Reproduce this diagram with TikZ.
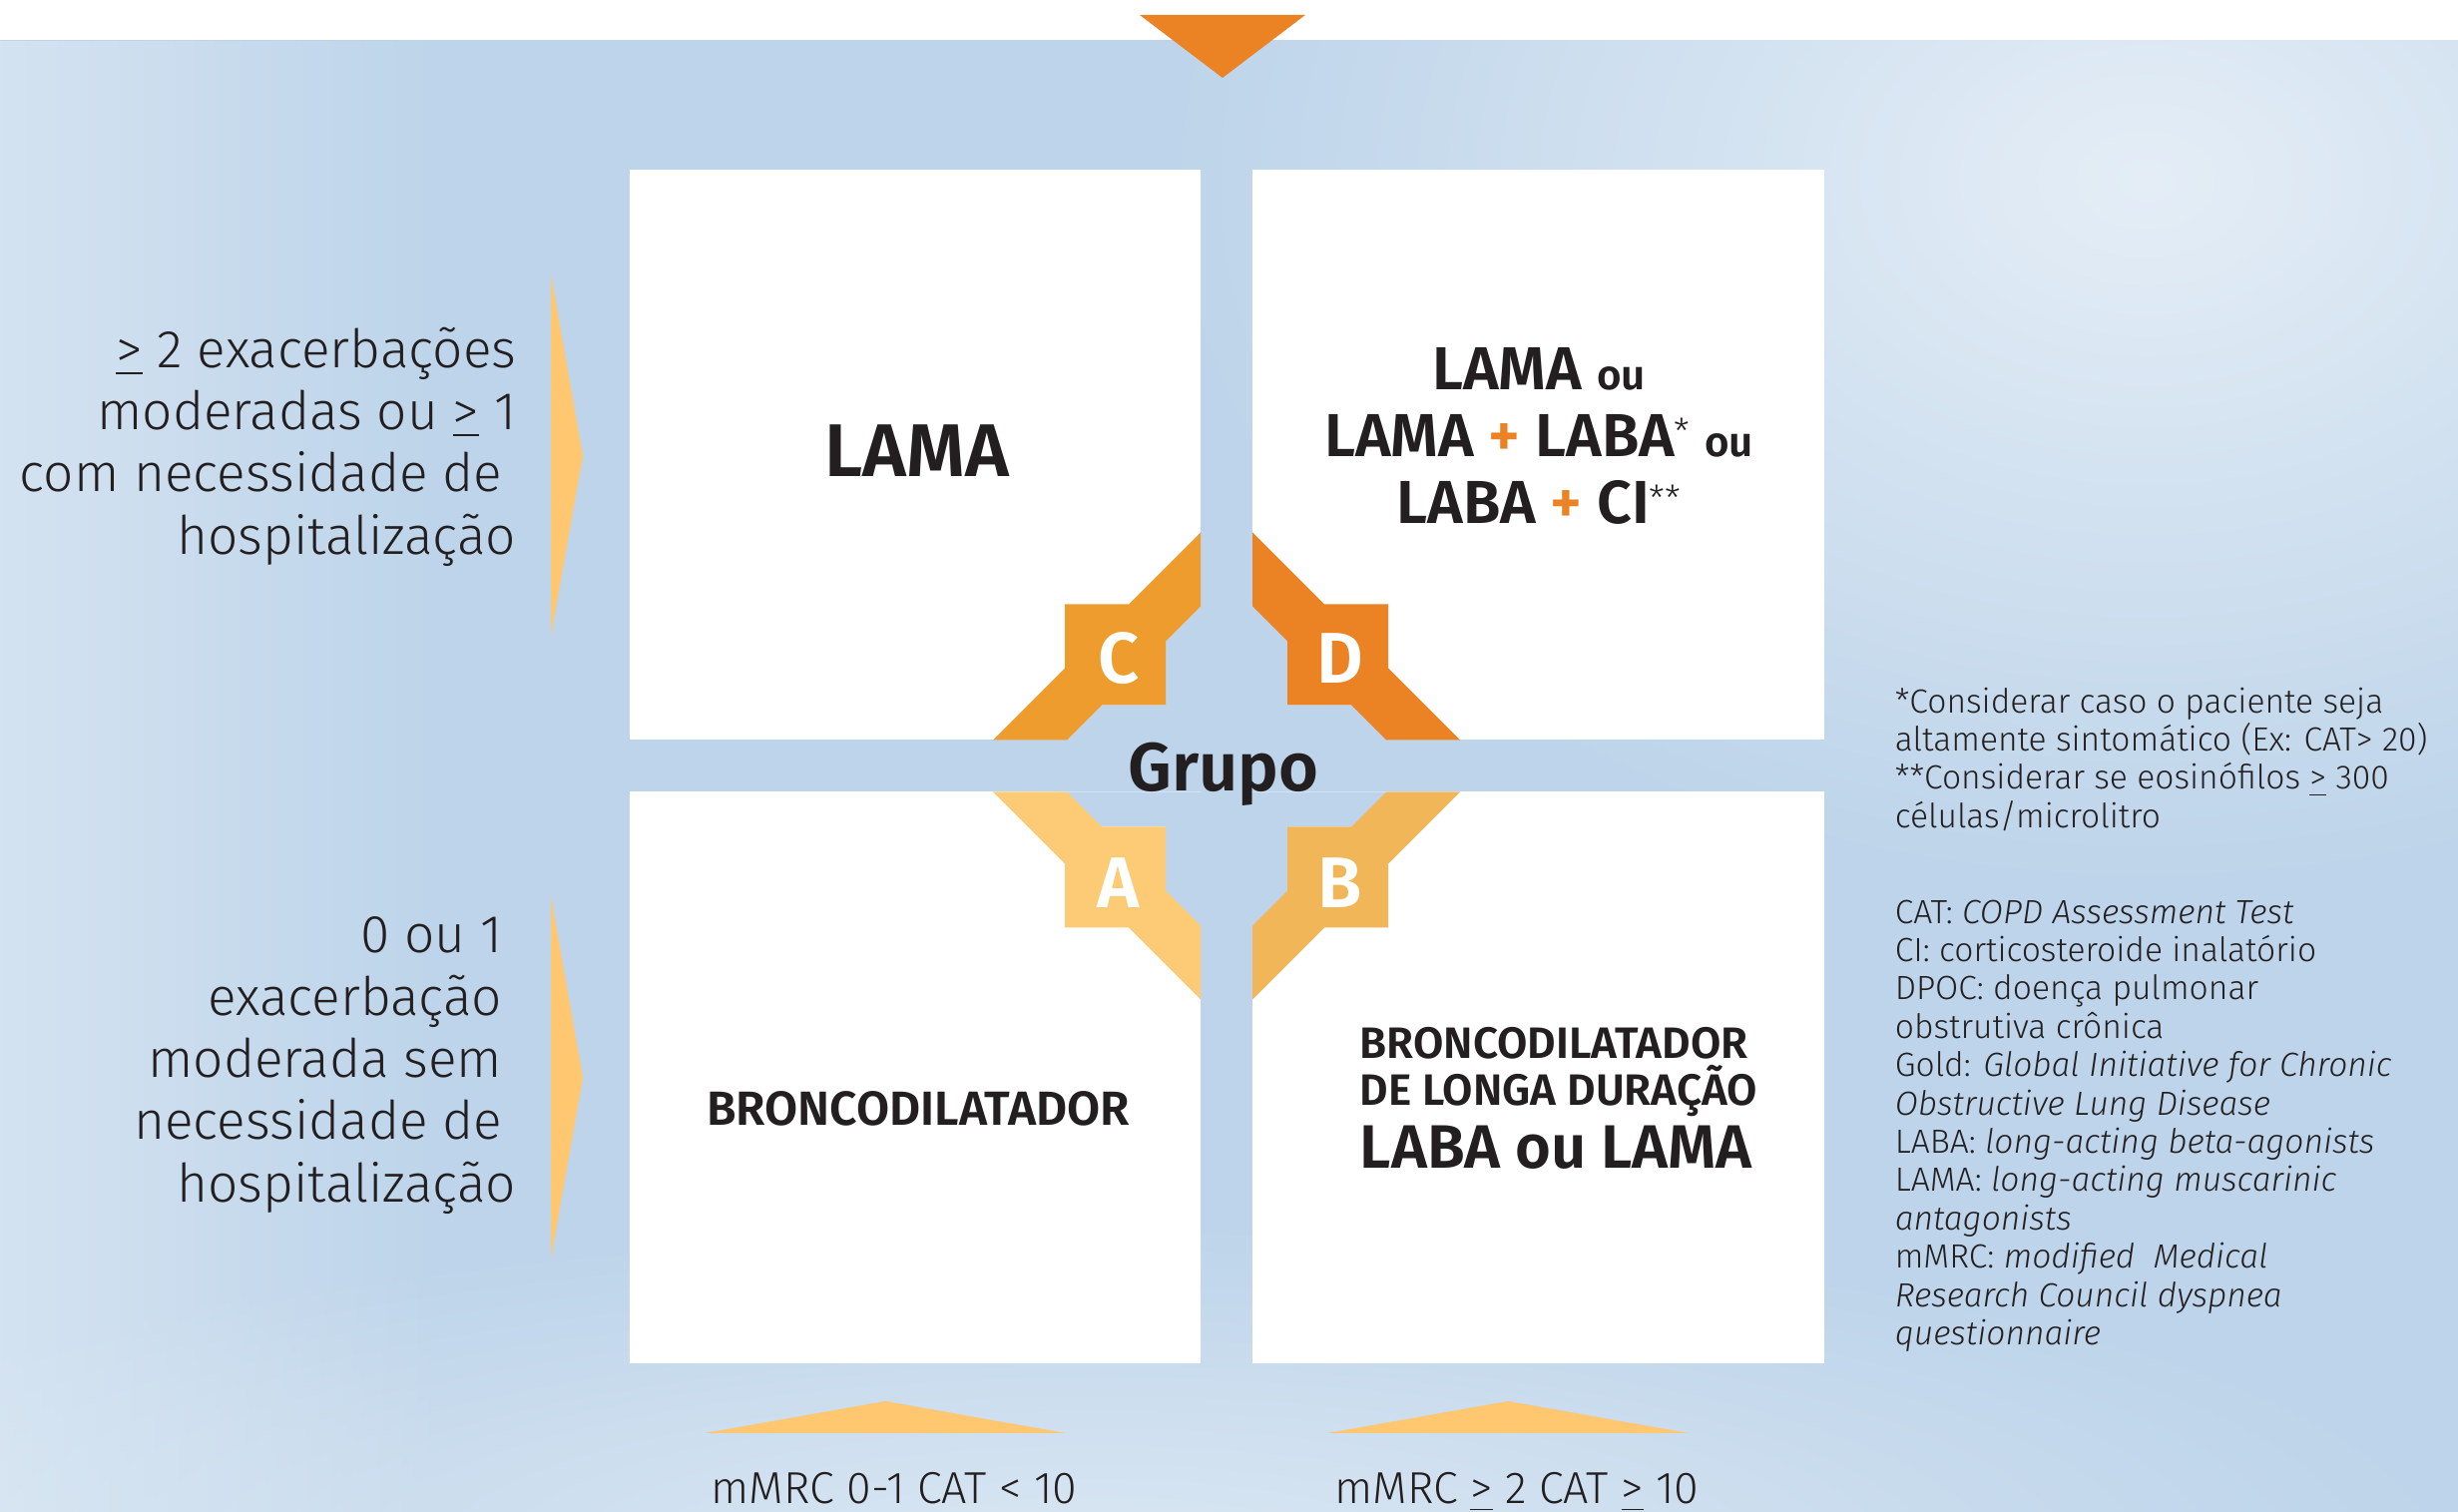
\documentclass[tikz,border=0pt]{standalone}
\usepackage{fontspec}
\setmainfont{Fira Sans}[UprightFont={* Light}, BoldFont={* SemiBold}, ItalicFont={* Light Italic}, BoldItalicFont={* SemiBold Italic}]
\usetikzlibrary{fadings}

\definecolor{bandblue}{HTML}{BDD4EA}
\definecolor{cpiece}{HTML}{EE9C2D}
\definecolor{dpiece}{HTML}{EB8325}
\definecolor{apiece}{HTML}{FDCB76}
\definecolor{bpiece}{HTML}{F0B657}
\definecolor{arrowtone}{HTML}{FFC870}
\definecolor{inkdark}{HTML}{231F20}

\newcommand{\orangeplus}{{\color{dpiece}+}}
\newcommand{\ulgeq}{\underline{>}}
\newcommand{\smallou}{{\fontsize{10.5}{10.5}\selectfont ou}}
\newcommand{\starmark}[1]{\raisebox{3.2pt}{\mdseries\fontsize{9}{9}\selectfont #1}}
\newcommand{\trail}{\kern3.5pt}
\tikzfading[name=softglow, inner color=transparent!0, outer color=transparent!100]

\begin{document}
\begin{tikzpicture}[x=0.25pt,y=-0.25pt,
  sidetext/.style={inner sep=0, align=right, text=inkdark, font=\fontsize{13.3}{15.6}\selectfont},
  drugbig/.style={inner sep=0, text=inkdark, font=\bfseries\fontsize{15.2}{16.9}\selectfont},
  grouptag/.style={inner sep=0, text=white, font=\bfseries\fontsize{18}{18}\selectfont},
  notetext/.style={inner sep=0, align=left, text=inkdark, font=\fontsize{8.4}{9.6}\selectfont},
  axistext/.style={inner sep=0, text=inkdark, font=\fontsize{11.2}{12}\selectfont}]
\useasboundingbox (0,0) rectangle (2463,1515);

%Shape: Background
\fill [bandblue] (0,0) rectangle (2463,1515);
\fill [white, fill opacity=0.6, path fading=softglow] (2150,180) ellipse (1000 and 720);
\fill [white, fill opacity=0.45, path fading=softglow] (1100,1560) ellipse (1400 and 340);
\fill [white, fill opacity=0.35, path fading=east] (0,40) rectangle (450,1515);
\fill [white] (0,0) rectangle (2463,40);

%Shape: Top triangle
\fill [dpiece] (1142,15) -- (1308,15) -- (1225,78) -- cycle;

%Shape: Quadrant boxes
\fill [white] (631,170) rectangle (1203,741.5);
\fill [white] (1255,170) rectangle (1828,741.5);
\fill [white] (631,793.5) rectangle (1203,1366);
\fill [white] (1255,793.5) rectangle (1828,1366);

%Shape: Group emblem
\begin{scope}[shift={(1229,767.5)}]
\foreach \sx/\sy/\col in {1/1/cpiece, -1/1/dpiece, 1/-1/apiece, -1/-1/bpiece}{
  \begin{scope}[xscale=\sx, yscale=\sy]
  \fill [bandblue] (-26,-160) -- (-61,-125) -- (-61,-61) -- (-125,-61) -- (-160,-26) -- (-26,-26) -- cycle;
  \fill [\col] (-26,-234) -- (-98,-162) -- (-162,-162) -- (-162,-98) -- (-234,-26) -- (-160,-26) -- (-125,-61) -- (-61,-61) -- (-61,-125) -- (-26,-160) -- cycle;
  \end{scope}
}
\end{scope}

%Shape: Side arrows
\fill [arrowtone] (552,275) -- (584,457) -- (552,637) -- cycle;
\fill [arrowtone] (552,898) -- (584,1080) -- (552,1261) -- cycle;

%Shape: Bottom arrows
\fill [arrowtone] (706,1436) -- (887,1404) -- (1068,1436) -- cycle;
\fill [arrowtone] (1330,1436) -- (1511,1404) -- (1692,1436) -- cycle;

% Text Node
\node [sidetext, anchor=north east] (manyexac) at (518,327) {\ulgeq{} 2 exacerbações\\moderadas ou \ulgeq{} 1\\com necessidade de\trail\\hospitalização};
% Text Node
\node [sidetext, anchor=north east] (fewexac) at (518,918) {0 ou 1\trail\\exacerbação\trail\\moderada sem\trail\\necessidade de\trail\\hospitalização};

% Text Node
\node [inner sep=0, text=inkdark, font=\bfseries\fontsize{18.7}{20}\selectfont, anchor=base] (quadC) at (919,478) {LAMA};
% Text Node
\node [drugbig, anchor=base] (quadDa) at (1542,391) {LAMA \smallou};
\node [drugbig, anchor=base] (quadDb) at (1542,458) {LAMA \orangeplus{} LABA\starmark{*} \smallou};
\node [drugbig, anchor=base] (quadDc) at (1542,525) {LABA \orangeplus{} CI\starmark{**}};
% Text Node
\node [inner sep=0, text=inkdark, font=\bfseries\fontsize{12}{12}\selectfont, anchor=base] (quadA) at (920,1128) {BRONCODILATADOR};
% Text Node
\node [inner sep=0, text=inkdark, font=\bfseries\fontsize{11}{12}\selectfont, anchor=base west] (quadBa) at (1362,1061) {BRONCODILATADOR};
\node [inner sep=0, text=inkdark, font=\bfseries\fontsize{11}{12}\selectfont, anchor=base west] (quadBb) at (1362,1108) {DE LONGA DURAÇÃO};
\node [inner sep=0, text=inkdark, font=\bfseries\fontsize{15.35}{16}\selectfont, anchor=base west] (quadBc) at (1362,1171) {LABA ou LAMA};

% Text Node
\node [inner sep=0, text=inkdark, font=\bfseries\fontsize{17.1}{18}\selectfont, anchor=base] (grupo) at (1226,793) {Grupo};
% Text Node
\node [grouptag, anchor=base] (tagC) at (1121,685) {C};
\node [grouptag, anchor=base] (tagD) at (1343,685) {D};
\node [grouptag, anchor=base] (tagA) at (1121,910) {A};
\node [grouptag, anchor=base] (tagB) at (1343,910) {B};

% Text Node
\node [notetext, anchor=north west] (footnotes) at (1898,688) {*Considerar caso o paciente seja\\altamente sintomático (Ex: CAT> 20)\\**Considerar se eosinófilos \ulgeq{} 300\\células/microlitro};
% Text Node
\node [notetext, anchor=north west] (glossary) at (1898,901) {CAT: \textit{COPD Assessment Test}\\CI: corticosteroide inalatório\\DPOC: doença pulmonar\\obstrutiva crônica\\Gold: \textit{Global Initiative for Chronic}\\\textit{Obstructive Lung Disease}\\LABA: \textit{long-acting beta-agonists}\\LAMA: \textit{long-acting muscarinic}\\\textit{antagonists}\\mMRC: \textit{modified\ \ Medical}\\\textit{Research Council dyspnea}\\\textit{questionnaire}};

% Text Node
\node [axistext, anchor=base] (lowsympt) at (896,1507) {mMRC 0-1 CAT < 10};
\node [axistext, anchor=base] (highsympt) at (1520,1507) {mMRC \ulgeq{} 2 CAT \ulgeq{} 10};

\end{tikzpicture}
\end{document}
